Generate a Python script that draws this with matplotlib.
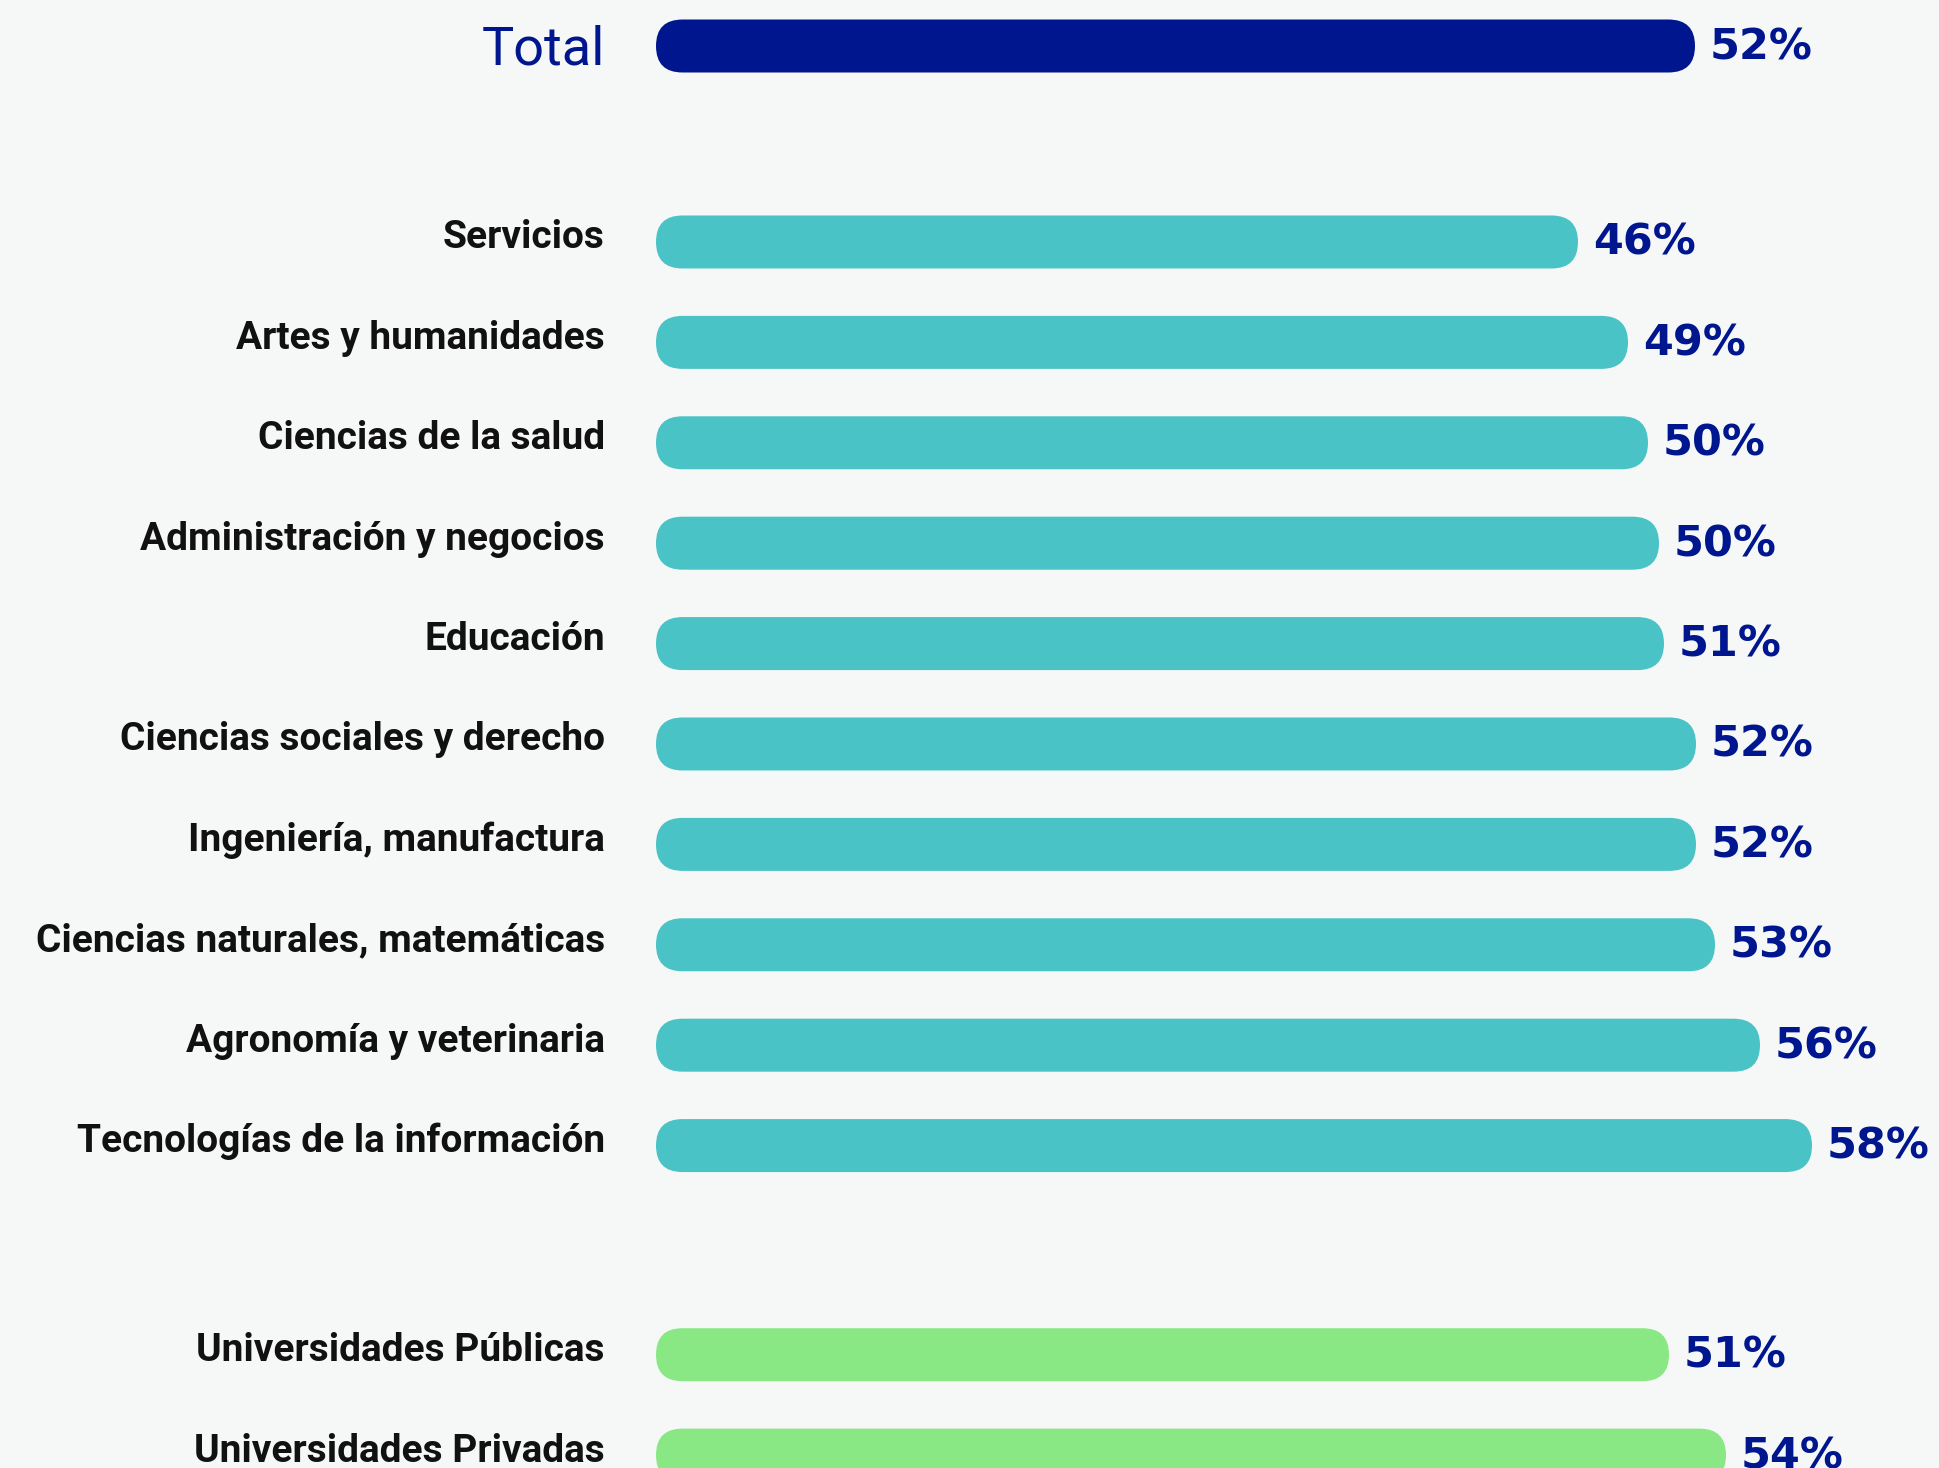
import matplotlib.pyplot as plt
from matplotlib.patches import FancyBboxPatch

# data
total_label = "Total"
total_value = 51.95
total_text = "52%"

categories = ["Servicios", "Artes y humanidades", "Ciencias de la salud",
              "Administración y negocios", "Educación",
              "Ciencias sociales y derecho", "Ingeniería, manufactura",
              "Ciencias naturales, matemáticas", "Agronomía y veterinaria",
              "Tecnologías de la información"]
cat_values = [46.1, 48.6, 49.6, 50.15, 50.4, 52.0, 52.0, 52.95, 55.2, 57.8]
cat_texts = ["46%", "49%", "50%", "50%", "51%", "52%", "52%", "53%", "56%", "58%"]

univ = ["Universidades Públicas", "Universidades Privadas"]
univ_values = [50.65, 53.5]
univ_texts = ["51%", "54%"]

navy = "#00168f"
teal = "#4ac3c6"
green = "#8ae884"
bg = "#f6f8f7"

# layout: 20 px per percentage point, 100.4 px per row
px_x = 20.0
px_y = 100.4
W, H = 1940, 1468
x0 = 656      # pixel where 0% starts
y0 = 46       # pixel centre of the Total row
bar_h = 53 / px_y
aspect = px_x / px_y
rad = 26.5 / px_x

fig = plt.figure(figsize=(W / 100, H / 100), dpi=100)
fig.patch.set_facecolor(bg)
ax = fig.add_axes([0, 0, 1, 1])
ax.set_facecolor(bg)
ax.set_xlim(-x0 / px_x, (W - x0) / px_x)
ax.set_ylim((H - y0) / px_y, -y0 / px_y)
ax.axis("off")

label_x = -51 / px_x
gap = 15 / px_x


def bar(y, v, color, txt):
    p = FancyBboxPatch((0, y - bar_h / 2), v, bar_h,
                       boxstyle=f"round,pad=0,rounding_size={rad}",
                       mutation_aspect=aspect, fc=color, ec="none")
    ax.add_patch(p)
    ax.text(v + gap, y + 0.01, txt, ha="left", va="center", color=navy,
            fontsize=31, fontweight="bold", family="DejaVu Sans")


def label(y, txt):
    ax.text(label_x, y - 0.04, txt, ha="right", va="center", color="#111111",
            fontsize=28, fontweight="semibold", family="Roboto")


# Total row
bar(0, total_value, navy, total_text)
ax.text(label_x, 0.04, total_label, ha="right", va="center", color=navy,
        fontsize=39, fontweight="normal", family="Roboto")

# fields of study
for i, (c, v, t) in enumerate(zip(categories, cat_values, cat_texts)):
    y = 1.952 + i
    bar(y, v, teal, t)
    label(y, c)

# universities
for i, (c, v, t) in enumerate(zip(univ, univ_values, univ_texts)):
    y = 13.035 + i
    bar(y, v, green, t)
    label(y, c)

fig.savefig("out.png", dpi=100, facecolor=bg)
